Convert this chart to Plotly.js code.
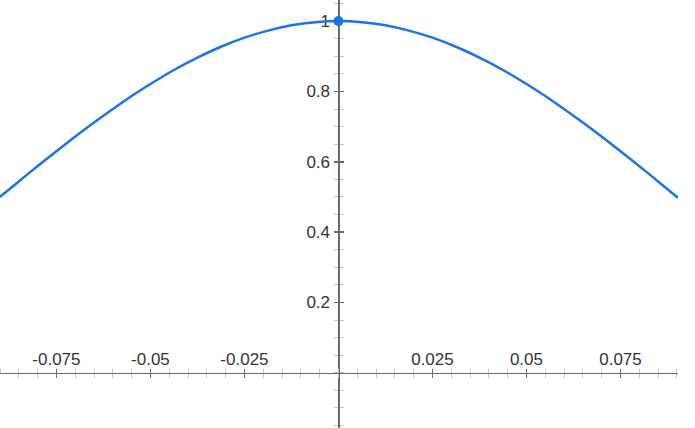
<!DOCTYPE html>
<html>
<head>
<meta charset="utf-8">
<script src="https://cdn.plot.ly/plotly-3.0.1.min.js"></script>
<style>html,body{margin:0;padding:0;background:#fff;} #chart{width:695px;height:428px;}</style>
</head>
<body>
<div id="chart"></div>
<script>
// Curve sample points
const xValues = [-0.0903, -0.0875, -0.08125, -0.075, -0.06875, -0.0625, -0.05625, -0.05, -0.04375, -0.0375, -0.03125, -0.025, -0.01875, -0.0125, -0.00625, 0,
                 0.00625, 0.0125, 0.01875, 0.025, 0.03125, 0.0375, 0.04375, 0.05, 0.05625, 0.0625, 0.06875, 0.075, 0.08125, 0.0875, 0.0903];
const yValues = [0.498, 0.522, 0.577, 0.630, 0.682, 0.731, 0.778, 0.821, 0.861, 0.896, 0.927, 0.953, 0.973, 0.988, 0.997, 1.0,
                 0.997, 0.988, 0.973, 0.953, 0.927, 0.896, 0.861, 0.821, 0.778, 0.731, 0.682, 0.630, 0.577, 0.522, 0.498];
const peakX = [0];
const peakY = [1];
const xTickVals = [-0.075, -0.05, -0.025, 0.025, 0.05, 0.075];
const xTickText = ['-0.075', '-0.05', '-0.025', '0.025', '0.05', '0.075'];
const yTickVals = [0.2, 0.4, 0.6, 0.8, 1];
const yTickText = ['0.2', '0.4', '0.6', '0.8', '1'];

const xRange = [-0.09, 0.0903];
const yRange = [-0.157, 1.060];
const axisColor = '#6b6b6b';
const minorColor = '#c4c4c4';
const font = {family: 'Arial, "Liberation Sans", sans-serif', size: 17, color: '#333333'};

// dummy invisible traces on the base axes, real marks on the overlay axes (drawn on top)
const traces = [
  {x: [0], y: [0], type: 'scatter', mode: 'markers', marker: {opacity: 0}, hoverinfo: 'skip'},
  {x: [0], y: [0], xaxis: 'x3', yaxis: 'y3', type: 'scatter', mode: 'markers', marker: {opacity: 0}, hoverinfo: 'skip'},
  {x: xValues, y: yValues, xaxis: 'x2', yaxis: 'y2', type: 'scatter', mode: 'lines',
   line: {color: '#1a73e8', width: 2.5, shape: 'spline', smoothing: 1.0}, hoverinfo: 'skip'},
  {x: peakX, y: peakY, xaxis: 'x2', yaxis: 'y2', type: 'scatter', mode: 'markers',
   marker: {color: '#1a73e8', size: 10}, cliponaxis: false, hoverinfo: 'skip'}
];

const xPos = (0 - yRange[0]) / (yRange[1] - yRange[0]);
const yPos = (0 - xRange[0]) / (xRange[1] - xRange[0]);

function mkX(extra) {
  return Object.assign({
    range: xRange, showgrid: false, zeroline: false, showline: true,
    linecolor: axisColor, linewidth: 1.5, anchor: 'free', position: xPos,
    tickmode: 'array', tickvals: xTickVals, ticklen: 4, tickwidth: 1.5, tickcolor: axisColor,
    minor: {tickmode: 'linear', tick0: 0, dtick: 0.005, ticklen: 4, tickwidth: 1, tickcolor: minorColor, showgrid: false},
    fixedrange: true, layer: 'below traces'
  }, extra);
}
function mkY(extra) {
  return Object.assign({
    range: yRange, showgrid: false, zeroline: false, showline: true,
    linecolor: axisColor, linewidth: 1.5, anchor: 'free', position: yPos,
    tickmode: 'array', tickvals: yTickVals, ticklen: 4, tickwidth: 1.5, tickcolor: axisColor,
    minor: {tickmode: 'linear', tick0: 0, dtick: 0.05, ticklen: 4, tickwidth: 1, tickcolor: minorColor, showgrid: false},
    fixedrange: true, layer: 'below traces'
  }, extra);
}

const layout = {
  width: 695, height: 428,
  margin: {l: 0, r: 17, t: 0, b: 0, pad: 0},
  paper_bgcolor: '#ffffff', plot_bgcolor: '#ffffff',
  showlegend: false,
  font: font,
  // labelled axes: ticks point inward so the labels sit close to the line
  xaxis: mkX({side: 'top', ticks: 'inside', ticktext: xTickText, showticklabels: true, tickfont: font, ticklabelstandoff: 1}),
  yaxis: mkY({side: 'left', ticks: 'inside', ticktext: yTickText, showticklabels: true, tickfont: font, ticklabelstandoff: 5}),
  // overlay axes: ticks on the other side of the line
  xaxis2: mkX({overlaying: 'x', side: 'top', ticks: 'outside', showticklabels: false}),
  yaxis2: mkY({overlaying: 'y', side: 'left', ticks: 'outside', showticklabels: false}),
  xaxis3: mkX({overlaying: 'x', side: 'top', ticks: '', showticklabels: false, showline: false}),
  yaxis3: mkY({overlaying: 'y', side: 'left', ticks: '', showticklabels: false, showline: false})
};
layout.xaxis.minor.ticks = 'inside';
layout.yaxis.minor.ticks = 'inside';
layout.xaxis2.minor.ticks = 'outside';
layout.yaxis2.minor.ticks = 'outside';
layout.xaxis3.minor.ticks = '';
layout.yaxis3.minor.ticks = '';

Plotly.newPlot('chart', traces, layout, {displayModeBar: false, staticPlot: true});
</script>
</body>
</html>
